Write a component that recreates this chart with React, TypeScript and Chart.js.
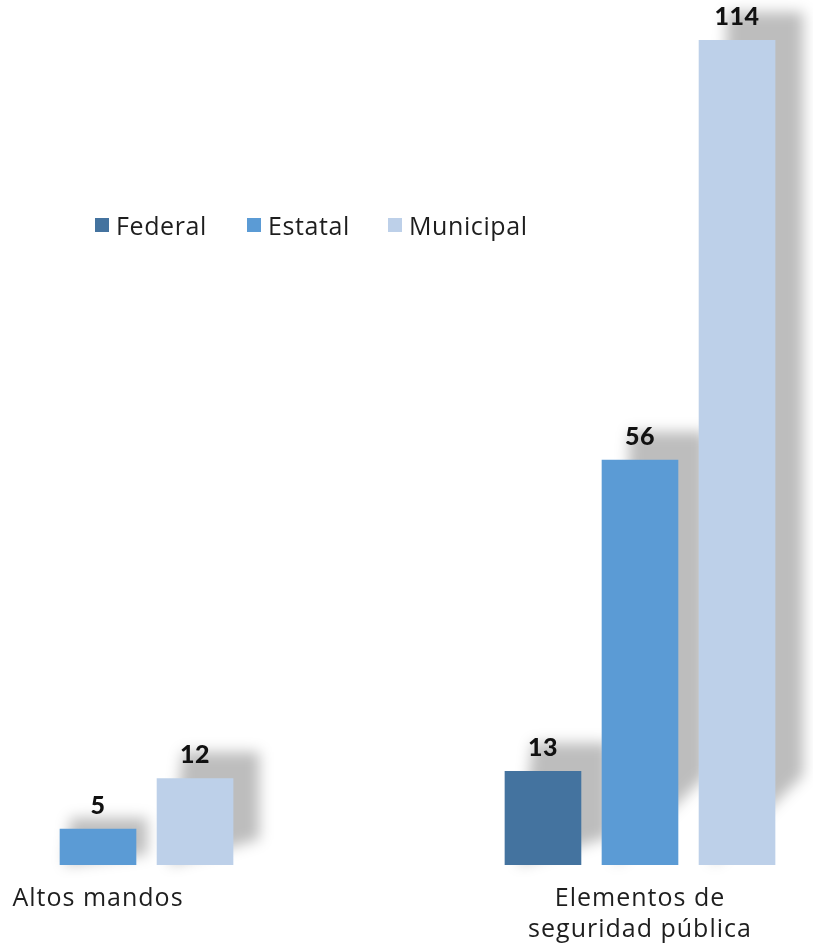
import React, { useEffect, useRef } from "react";
import { Chart, registerables } from "chart.js";

Chart.register(...registerables);

const categories: (string | string[])[] = ["Altos mandos", ["Elementos de", "seguridad pública"]];
const seriesNames = ["Federal", "Estatal", "Municipal"];
const federalValues: (number | null)[] = [null, 13];
const estatalValues: (number | null)[] = [5, 56];
const municipalValues: (number | null)[] = [12, 114];
const seriesColors = ["#44739F", "#5B9BD5", "#BDD0E9"];
const yMax = 114;

const FONT = "'Open Sans', Lato, sans-serif";
const NUM_FONT = "Lato, 'Open Sans', sans-serif";

const spacingPlugin = {
  id: "letterSpacing",
  beforeDraw(chart: any) {
    chart.ctx.letterSpacing = "1px";
  },
  beforeDatasetsDraw(chart: any) {
    chart.ctx.letterSpacing = "0px";
  },
  afterDraw(chart: any) {
    chart.ctx.letterSpacing = "0px";
  },
};

const shadowPlugin = {
  id: "barShadows",
  beforeDatasetsDraw(chart: any) {
    const ctx = chart.ctx;
    ctx.save();
    ctx.filter = "blur(7px)";
    ctx.fillStyle = "rgba(0,0,0,0.26)";
    chart.data.datasets.forEach((ds: any, i: number) => {
      const meta = chart.getDatasetMeta(i);
      meta.data.forEach((el: any, j: number) => {
        if (ds.data[j] == null) return;
        const { x, y, base, width } = el.getProps(["x", "y", "base", "width"], true);
        const h = base - y;
        const left = x - width / 2;
        const right = x + width / 2;
        const d = Math.min(28, h * 0.3);
        const rise = Math.min(90, h * 0.3);
        ctx.beginPath();
        ctx.moveTo(left + d, y - d);
        ctx.lineTo(right + d, y - d);
        ctx.lineTo(right + d, base - rise);
        ctx.lineTo(left + d * 0.5, base);
        ctx.closePath();
        ctx.fill();
      });
    });
    ctx.restore();
  },
};

const labelPlugin = {
  id: "valueLabels",
  afterDatasetsDraw(chart: any) {
    const ctx = chart.ctx;
    ctx.save();
    ctx.letterSpacing = "0.5px";
    ctx.font = `900 25px ${NUM_FONT}`;
    ctx.fillStyle = "#111111";
    ctx.textAlign = "center";
    ctx.textBaseline = "middle";
    chart.data.datasets.forEach((ds: any, i: number) => {
      const meta = chart.getDatasetMeta(i);
      meta.data.forEach((el: any, j: number) => {
        const v = ds.data[j];
        if (v == null) return;
        const { x, y } = el.getProps(["x", "y"], true);
        ctx.fillText(String(v), x, y - 23);
      });
    });
    ctx.restore();
  },
};

const legendLefts = [95, 247, 388];

export default function App() {
  const canvasRef = useRef<HTMLCanvasElement | null>(null);

  useEffect(() => {
    if (!canvasRef.current) return;
    const values = [federalValues, estatalValues, municipalValues];
    const chart = new Chart(canvasRef.current, {
      type: "bar",
      data: {
        labels: categories,
        datasets: seriesNames.map((name, i) => ({
          label: name,
          data: values[i],
          backgroundColor: seriesColors[i],
          borderWidth: 0,
          categoryPercentage: 0.537,
          barPercentage: 0.79,
        })),
      },
      options: {
        animation: false,
        responsive: true,
        maintainAspectRatio: false,
        layout: { padding: { top: 40, left: 0, right: 0, bottom: 0 } },
        plugins: {
          legend: { display: false },
          tooltip: { enabled: false },
        },
        scales: {
          x: {
            grid: { display: false, drawTicks: false },
            border: { display: false },
            ticks: {
              color: "#1e1e1e",
              padding: 18,
              maxRotation: 0,
              autoSkip: false,
              font: { family: FONT, size: 25, lineHeight: 1.26 },
            },
          },
          y: {
            display: false,
            min: 0,
            max: yMax,
          },
        },
      },
      plugins: [spacingPlugin, shadowPlugin, labelPlugin],
    });
    return () => chart.destroy();
  }, []);

  return (
    <div
      style={{
        position: "fixed",
        left: 0,
        top: 0,
        width: 813,
        height: 944,
        overflow: "hidden",
        background: "#ffffff",
      }}
    >
      <div style={{ position: "absolute", left: -173, top: 0, width: 1084, height: 964 }}>
        <canvas ref={canvasRef} />
      </div>
      {seriesNames.map((name, i) => (
        <div
          key={name}
          style={{
            position: "absolute",
            left: legendLefts[i],
            top: 209,
            display: "flex",
            alignItems: "center",
            fontFamily: FONT,
            fontSize: 25,
            letterSpacing: "0.6px",
            color: "#1e1e1e",
            lineHeight: "32px",
            whiteSpace: "nowrap",
          }}
        >
          <span
            style={{
              display: "inline-block",
              width: 14,
              height: 14,
              background: seriesColors[i],
              marginRight: 7,
            }}
          />
          <span>{name}</span>
        </div>
      ))}
    </div>
  );
}
